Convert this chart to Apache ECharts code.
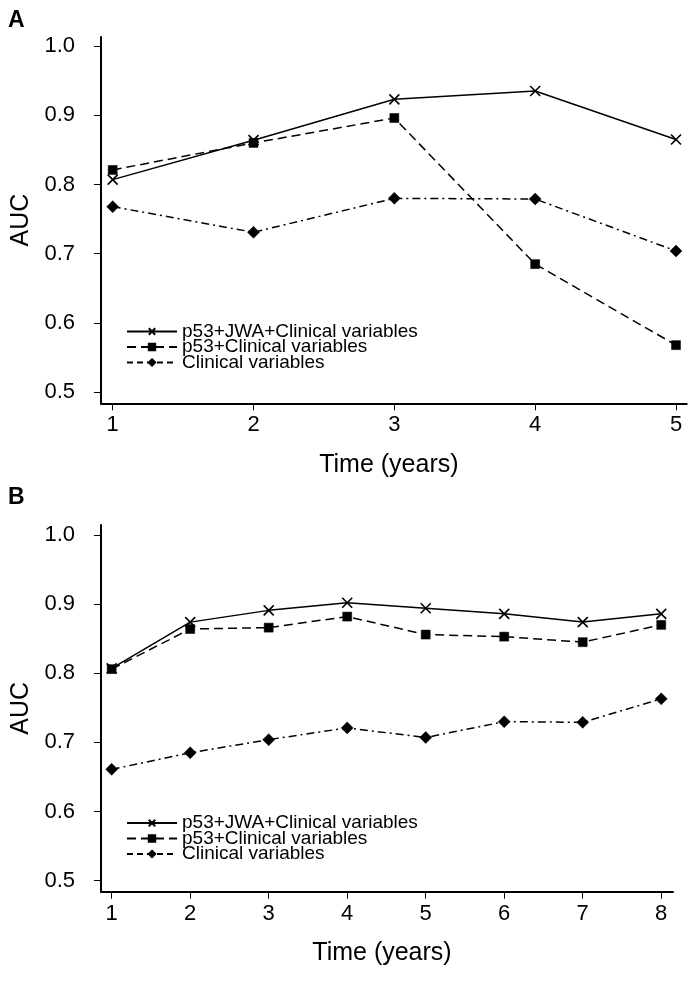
<!DOCTYPE html>
<html>
<head>
<meta charset="utf-8">
<script src="https://cdn.jsdelivr.net/npm/echarts@6/dist/echarts.min.js"></script>
<style>
html,body{margin:0;padding:0;background:#fff;}
#chart{width:692px;height:981px;}
</style>
</head>
<body>
<div id="chart"></div>
<script>
// ---- data ----
var seriesNames = ['p53+JWA+Clinical variables', 'p53+Clinical variables', 'Clinical variables'];
var yTicks = [0.5, 0.6, 0.7, 0.8, 0.9, 1.0];

var yearsA = [1, 2, 3, 4, 5];
var aucAFull = [0.807, 0.864, 0.923, 0.935, 0.865];
var aucAP53 = [0.821, 0.860, 0.896, 0.685, 0.568];
var aucAClin = [0.768, 0.731, 0.780, 0.779, 0.704];

var yearsB = [1, 2, 3, 4, 5, 6, 7, 8];
var aucBFull = [0.807, 0.874, 0.891, 0.902, 0.894, 0.886, 0.874, 0.886];
var aucBP53 = [0.806, 0.864, 0.866, 0.882, 0.856, 0.853, 0.845, 0.870];
var aucBClin = [0.661, 0.685, 0.704, 0.721, 0.707, 0.730, 0.729, 0.763];

// ---- helpers ----
var FONT = 'Liberation Sans, Arial, sans-serif';
var crossPath = 'path://M0,0L10,10M10,0L0,10';
function pairs(xs, ys) { return xs.map(function (x, i) { return [x, ys[i]]; }); }

var styles = [
  { symbol: crossPath, size: 10, line: 'solid' },
  { symbol: 'rect', size: 9, line: [9, 5] },
  { symbol: 'diamond', size: 12, line: [8, 4, 2, 4] }
];

function mkSeries(name, idx, gridIdx, data) {
  var s = styles[idx];
  return {
    type: 'line', name: name, xAxisIndex: gridIdx, yAxisIndex: gridIdx,
    data: data, symbol: s.symbol, symbolSize: s.size, showSymbol: true,
    lineStyle: { color: '#000', width: 1.5, type: s.line },
    itemStyle: { color: '#000', borderColor: '#000', borderWidth: idx === 0 ? 1.6 : 0.5 },
    z: 3 - idx
  };
}

function mkX(gridIdx, min, max, ticks) {
  return {
    type: 'value', gridIndex: gridIdx, min: min, max: max,
    name: 'Time (years)', nameLocation: 'middle', nameGap: 49,
    nameTextStyle: { color: '#000', fontFamily: FONT, fontSize: 25, padding: [0, 10, 0, 0] },
    axisLine: { show: true, onZero: false, lineStyle: { color: '#000', width: 2 } },
    axisTick: { show: true, length: 7, customValues: ticks, lineStyle: { color: '#000', width: 1 } },
    axisLabel: { customValues: ticks, color: '#000', fontFamily: FONT, fontSize: 22, margin: 11 },
    splitLine: { show: false }
  };
}
function mkY(gridIdx, min, max) {
  return {
    type: 'value', gridIndex: gridIdx, min: min, max: max,
    name: 'AUC', nameLocation: 'middle', nameGap: 63, nameRotate: 90,
    nameTextStyle: { color: '#000', fontFamily: FONT, fontSize: 25 },
    axisLine: { show: true, onZero: false, lineStyle: { color: '#000', width: 2 } },
    axisTick: { show: true, length: 7, customValues: yTicks, lineStyle: { color: '#000', width: 1 } },
    axisLabel: { customValues: yTicks, color: '#000', fontFamily: FONT, fontSize: 22, margin: 26,
      formatter: function (v) { return v.toFixed(1); } },
    splitLine: { show: false }
  };
}
function mkLegend(top) {
  return {
    orient: 'vertical', left: 126, top: top, padding: 0, itemGap: -3.5,
    itemWidth: 50, itemHeight: 8, selectedMode: false,
    textStyle: { color: '#000', fontFamily: FONT, fontSize: 19 },
    data: [
      { name: seriesNames[0] },
      { name: seriesNames[1] },
      { name: seriesNames[2], lineStyle: { type: [6, 4] } }
    ]
  };
}

var chart = echarts.init(document.getElementById('chart'), null, { renderer: 'canvas' });
chart.setOption({
  animation: false,
  backgroundColor: '#fff',
  title: [
    { text: 'A', left: 3, top: 4, textStyle: { fontFamily: FONT, fontSize: 23, fontWeight: 'bold', color: '#000' } },
    { text: 'B', left: 3, top: 481, textStyle: { fontFamily: FONT, fontSize: 23, fontWeight: 'bold', color: '#000' } }
  ],
  grid: [
    { left: 101, top: 37, width: 585.7, height: 366.3 },
    { left: 101, top: 525, width: 572, height: 366.7 }
  ],
  xAxis: [mkX(0, 0.917, 5.076, yearsA), mkX(1, 0.864, 8.15, yearsB)],
  yAxis: [mkY(0, 0.484, 1.013), mkY(1, 0.484, 1.0145)],
  legend: [mkLegend(322), mkLegend(813.5)],
  series: [
    mkSeries(seriesNames[0], 0, 0, pairs(yearsA, aucAFull)),
    mkSeries(seriesNames[1], 1, 0, pairs(yearsA, aucAP53)),
    mkSeries(seriesNames[2], 2, 0, pairs(yearsA, aucAClin)),
    mkSeries(seriesNames[0], 0, 1, pairs(yearsB, aucBFull)),
    mkSeries(seriesNames[1], 1, 1, pairs(yearsB, aucBP53)),
    mkSeries(seriesNames[2], 2, 1, pairs(yearsB, aucBClin))
  ]
});
</script>
</body>
</html>
